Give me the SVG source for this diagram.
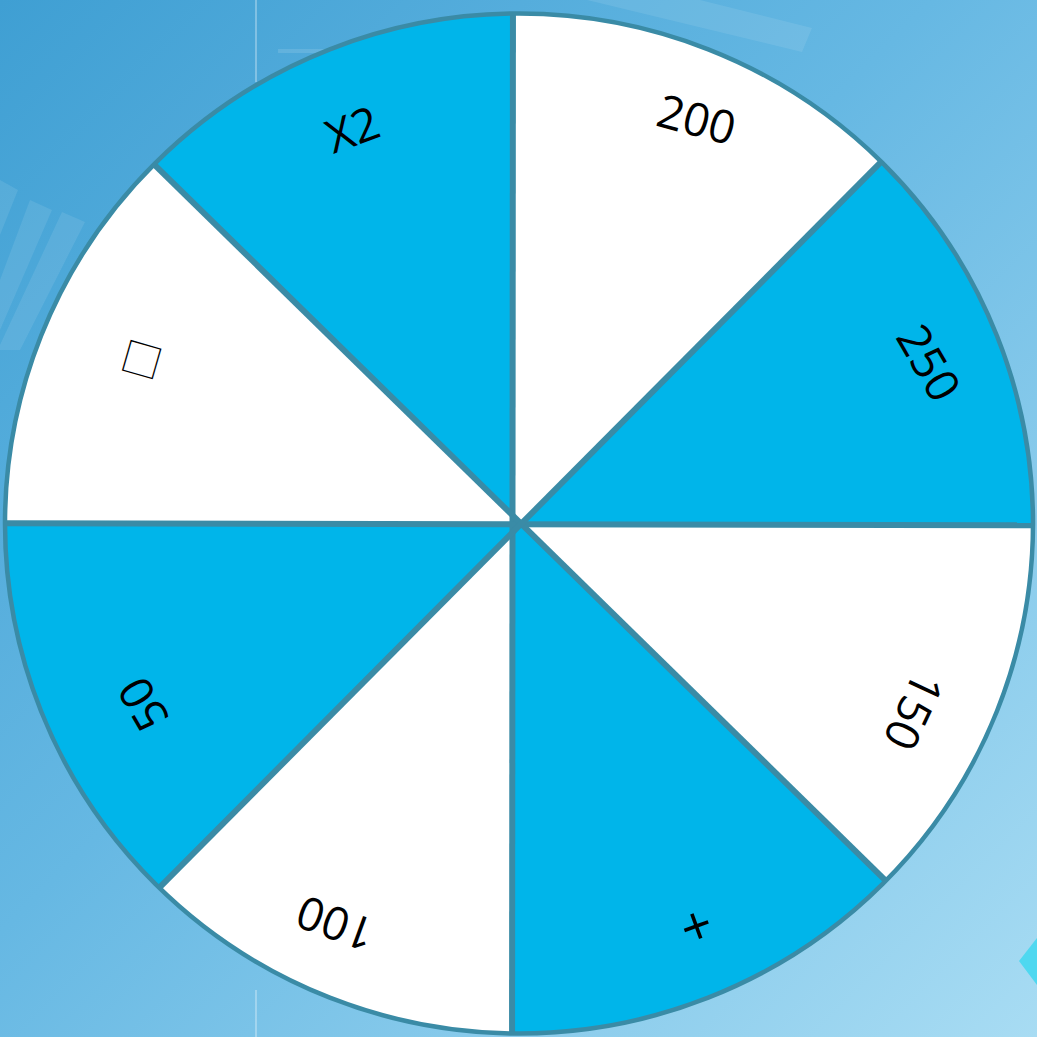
<svg xmlns="http://www.w3.org/2000/svg" width="1037" height="1037" viewBox="0 0 1037 1037">
<defs>
<linearGradient id="bg" x1="0" y1="0" x2="1" y2="1">
<stop offset="0" stop-color="#3f9fd3"/>
<stop offset="0.45" stop-color="#66b8e3"/>
<stop offset="1" stop-color="#a8dcf3"/>
</linearGradient>
<clipPath id="wheelClip"><ellipse cx="519" cy="523.5" rx="514" ry="510"/></clipPath>
<style>
.blue{fill:#00b5ea;stroke:#00b5ea;stroke-width:1}
.div{stroke:#3a8ba6;stroke-width:6;fill:none;stroke-linecap:butt}
.rim{fill:none;stroke:#3a8ba6;stroke-width:4.5}
.lbl{font-family:"Open Sans","Liberation Sans",sans-serif;font-size:46px;fill:#000;text-anchor:middle;dominant-baseline:central}
.deco{fill:#ffffff;opacity:0.09}
</style>
</defs>
<rect width="1037" height="1037" fill="url(#bg)"/>
<g id="background-deco">
<polygon class="deco" points="587,0 700,0 812,28 802,52"/>
<polygon class="deco" points="0,180 18,190 0,235"/>
<polygon class="deco" points="30,200 52,210 0,330 0,280"/>
<polygon class="deco" points="62,212 85,222 20,350 0,350 0,345"/>
<rect x="255" y="0" width="2" height="82" fill="#ffffff" opacity="0.3"/>
<rect x="255" y="990" width="2" height="47" fill="#ffffff" opacity="0.3"/>
<rect x="278" y="49" width="52" height="4" fill="#ffffff" opacity="0.12"/>
<polygon points="1037,938 1019,961 1037,985" fill="#4fd8f0"/>
</g>
<g id="wheel">
<ellipse cx="519" cy="523.5" rx="514" ry="510" fill="#ffffff"/>
<g clip-path="url(#wheelClip)">
<polygon id="seg-x2" class="blue" points="512.5,515 49,61.5 513,-50"/>
<polygon id="seg-250" class="blue" points="520.8,524.2 988,54.4 1100,525.5"/>
<polygon id="seg-plus" class="blue" points="512.5,515 991.75,984.5 512,1100"/>
<polygon id="seg-50" class="blue" points="520.8,524.2 52,995.6 -60,523"/>
<g id="connectors">
<line class="div" x1="513" y1="-50" x2="512" y2="1100"/>
<line class="div" x1="-60" y1="523" x2="1100" y2="525.5"/>
<line class="div" x1="49" y1="61.5" x2="991.75" y2="984.5"/>
<line class="div" x1="988" y1="54.4" x2="52" y2="995.6"/>
</g>
</g>
<ellipse class="rim" cx="519" cy="523.5" rx="514" ry="510"/>
</g>
<g id="label-x2"><text class="lbl" transform="translate(352,128) rotate(-20)">X2</text></g>
<g id="label-200"><text class="lbl" transform="translate(697,118) rotate(15)">200</text></g>
<g id="label-250"><text class="lbl" transform="translate(930,362) rotate(60)">250</text></g>
<g id="label-150"><text class="lbl" transform="translate(915,712) rotate(115)">150</text></g>
<g id="label-plus"><text class="lbl" style="font-size:54px" transform="translate(697,928) rotate(160)">+</text></g>
<g id="label-100"><text class="lbl" transform="translate(335,925) rotate(200)">100</text></g>
<g id="label-50"><text class="lbl" transform="translate(142,705) rotate(240)">50</text></g>
<g id="label-box"><text class="lbl" style="font-family:'Noto Sans CJK SC',sans-serif;font-size:40px;font-weight:300" transform="translate(140,359) rotate(286)">□</text></g>
</svg>
